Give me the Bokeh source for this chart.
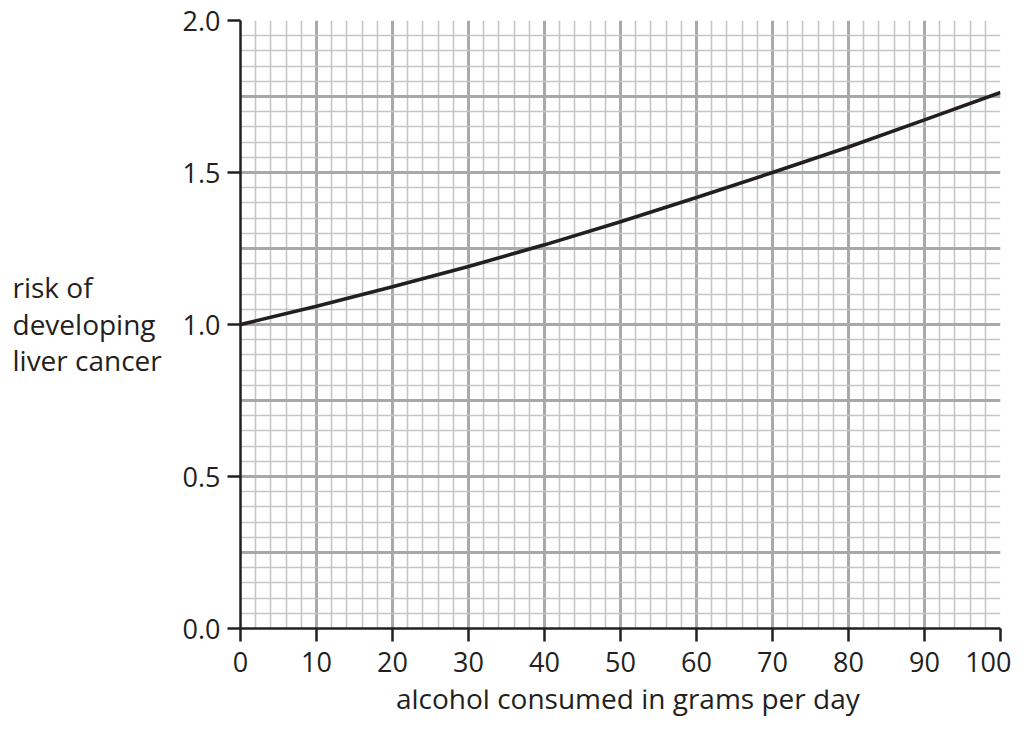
from bokeh.plotting import figure
from bokeh.models import Range1d, FixedTicker
from bokeh.layouts import row, column
from bokeh.core.properties import value
from bokeh.embed import file_html
from bokeh.resources import INLINE

# data
alcohol_g_per_day = [0, 10, 20, 30, 40, 50, 60, 70, 80, 90, 100]
risk = [1.0, 1.06, 1.124, 1.191, 1.262, 1.338, 1.418, 1.500, 1.584, 1.673, 1.763]

x_ticks = list(range(0, 101, 10))
y_ticks = [0.0, 0.5, 1.0, 1.5, 2.0]
y_tick_labels = {0.0: "0.0", 0.5: "0.5", 1.0: "1.0", 1.5: "1.5", 2.0: "2.0"}
y_grid_major = [0.0, 0.25, 0.5, 0.75, 1.0, 1.25, 1.5, 1.75, 2.0]
x_grid_minor = [v for v in range(0, 101, 2) if v % 10 != 0]
y_grid_minor = [round(i * 0.05, 2) for i in range(41) if i % 5 != 0]

y_label_lines = ["risk of", "developing", "liver cancer"]
x_label = "alcohol consumed in grams per day"

FONT = "Open Sans"
INK = "#231f20"


def blank(width, height):
    f = figure(width=width, height=height, output_backend="svg", toolbar_location=None,
               title=None,
               x_range=Range1d(0, width), y_range=Range1d(height, 0),
               x_axis_location=None, y_axis_location=None, min_border=0)
    f.grid.visible = False
    f.outline_line_color = None
    return f


# main chart
p = figure(width=841, height=689, output_backend="svg", toolbar_location=None,
           title=None,
           x_range=Range1d(0, 100), y_range=Range1d(0, 2.0),
           min_border_left=70, min_border_right=11, min_border_top=20,
           min_border_bottom=61)
p.outline_line_color = None

p.xgrid.ticker = FixedTicker(ticks=x_ticks, minor_ticks=x_grid_minor)
p.ygrid.ticker = FixedTicker(ticks=y_grid_major, minor_ticks=y_grid_minor)
for g in (p.xgrid, p.ygrid):
    g.grid_line_color = "#a7a9ac"
    g.grid_line_width = 3
    g.minor_grid_line_color = "#c4c5c7"
    g.minor_grid_line_width = 1.6
    g.level = "underlay"

p.xaxis.ticker = FixedTicker(ticks=x_ticks, minor_ticks=[])
p.yaxis.ticker = FixedTicker(ticks=y_ticks, minor_ticks=[])
p.yaxis.major_label_overrides = y_tick_labels
for ax in (p.xaxis, p.yaxis):
    ax.axis_line_color = INK
    ax.axis_line_width = 2.5
    ax.major_tick_line_color = INK
    ax.major_tick_line_width = 2.5
    ax.major_tick_in = 0
    ax.major_tick_out = 13
    ax.minor_tick_line_color = None
    ax.major_label_text_font = FONT
    ax.major_label_text_font_size = "27px"
    ax.major_label_text_color = INK
p.xaxis.major_label_standoff = 10
p.yaxis.major_label_standoff = 7

p.line(alcohol_g_per_day, risk, line_color=INK, line_width=3.6)

# y label panel (left)
ylab = blank(170, 719)
ylab.text(x=[12, 12, 12], y=[286, 323, 359], text=y_label_lines,
          text_font=value(FONT), text_font_size="28px", text_color=INK,
          text_align="left", text_baseline="alphabetic")

# x label panel (below)
xlab = blank(841, 30)
xlab.text(x=[172], y=[8], text=[x_label],
          text_font=value(FONT), text_font_size="28px", text_color=INK,
          text_align="left", text_baseline="alphabetic")

layout = row(ylab, column(p, xlab, spacing=0), spacing=0)

open("out.html", "w").write(file_html(layout, INLINE))
